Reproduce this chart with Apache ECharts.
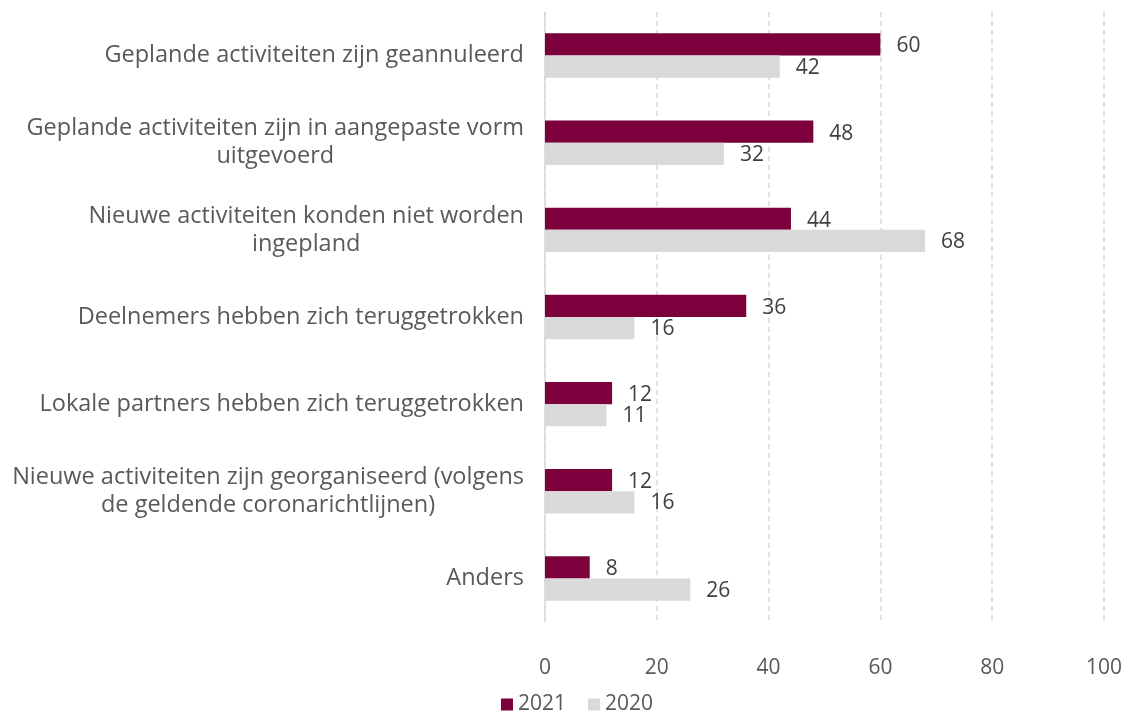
<!DOCTYPE html>
<html><head><meta charset="utf-8">
<script src="https://cdn.jsdelivr.net/npm/echarts@6/dist/echarts.min.js"></script>
<style>html,body{margin:0;padding:0;background:#fff}#c{width:1125px;height:712px}</style>
</head><body><div id="c"></div>
<script>
const categories = [
  "Geplande activiteiten zijn geannuleerd",
  "Geplande activiteiten zijn in aangepaste vorm\nuitgevoerd",
  "Nieuwe activiteiten konden niet worden\ningepland",
  "Deelnemers hebben zich teruggetrokken",
  "Lokale partners hebben zich teruggetrokken",
  "Nieuwe activiteiten zijn georganiseerd (volgens\nde geldende coronarichtlijnen)",
  "Anders"
];
const values2021 = [60, 48, 44, 36, 12, 12, 8];
const values2020 = [42, 32, 68, 16, 11, 16, 26];
const xTicks = [0, 20, 40, 60, 80, 100];

const FONT = "Open Sans";
const TXT = "#595959";
const chart = echarts.init(document.getElementById('c'));
chart.setOption({
  animation: false,
  textStyle: { fontFamily: FONT },
  grid: { left: 545, right: 20, top: 12, bottom: 90, containLabel: false },
  legend: {
    top: 689, left: 496, itemWidth: 12, itemHeight: 12, itemGap: 22,
    icon: 'rect',
    textStyle: { fontFamily: FONT, fontSize: 21, color: TXT },
    data: ['2021', '2020']
  },
  xAxis: {
    type: 'value', min: xTicks[0], max: xTicks[xTicks.length - 1], interval: 20,
    axisLine: { show: false }, axisTick: { show: false },
    axisLabel: { fontFamily: FONT, fontSize: 21, color: TXT, margin: 36 },
    splitLine: { show: true, lineStyle: { color: '#D9D9D9', type: [5, 4], width: 1.5 } }
  },
  yAxis: {
    type: 'category', data: categories, inverse: true,
    axisLine: { show: true, lineStyle: { color: '#D9D9D9', width: 1.5 } },
    axisTick: { show: false },
    axisLabel: {
      margin: 21, align: 'right',
      formatter: v => v.split('\n').map(s => '{c|' + s + '}').join('\n'),
      rich: { c: { fontFamily: FONT, fontSize: 23.5, color: TXT, align: 'center', lineHeight: 28 } }
    }
  },
  series: [
    { name: '2021', type: 'bar', data: values2021, barGap: '0%', barCategoryGap: '49%',
      itemStyle: { color: '#7B003C' },
      label: { show: true, position: 'right', distance: 16, offset: [0, 2], fontFamily: FONT, fontSize: 21, color: '#404040' } },
    { name: '2020', type: 'bar', data: values2020,
      itemStyle: { color: '#D9D9D9' },
      label: { show: true, position: 'right', distance: 16, offset: [0, 1], fontFamily: FONT, fontSize: 21, color: '#404040' } }
  ]
});
</script></body></html>
